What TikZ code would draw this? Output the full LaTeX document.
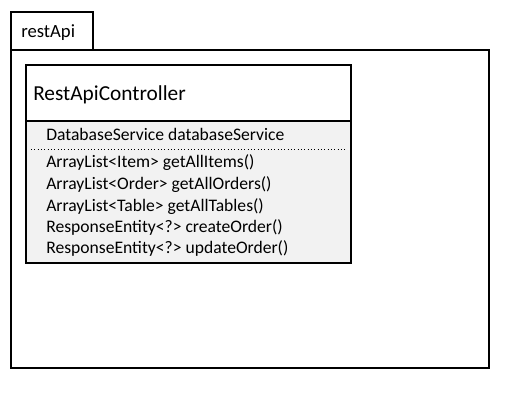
\documentclass[tikz,border=0pt]{standalone}
\usepackage{fontspec}
\setmainfont{Carlito}
\usepackage{tikz}
\usetikzlibrary{positioning}
\definecolor{boxgray}{HTML}{F2F2F2}
\tikzstyle{frame}=[draw=black, line width=0.9pt]
\tikzstyle{member}=[anchor=base west, inner sep=0pt, font=\fontsize{13.2}{16}\selectfont]

\begin{document}
\begin{tikzpicture}[x=0.75pt, y=-0.75pt]
    \useasboundingbox (0,0) rectangle (515,408);

    % パッケージの枠
    \draw[frame, fill=white] (11,12) rectangle (93,50);
    \draw[frame, fill=white] (11,50) rectangle (489,368);
    \node[anchor=base west, inner sep=0pt, font=\fontsize{14}{17}\selectfont] (pkg) at (21,37) {restApi};

    % クラスの枠
    \draw[frame, fill=boxgray] (26,65) rectangle (351,263);
    \draw[frame, fill=white] (26,65) rectangle (351,121);
    \node[anchor=base west, inner sep=0pt, font=\fontsize{16}{19}\selectfont] (cls) at (33,100) {RestApiController};

    % 属性
    \node[member] (attr) at (46,140) {DatabaseService databaseService};
    \draw[dotted, line width=0.5pt] (31,149) -- (346,149);

    % メソッド
    \node[member] (m1) at (46,167) {ArrayList<Item> getAllItems()};
    \node[member] (m2) at (46,189) {ArrayList<Order> getAllOrders()};
    \node[member] (m3) at (46,211) {ArrayList<Table> getAllTables()};
    \node[member] (m4) at (46,232) {ResponseEntity<?> createOrder()};
    \node[member] (m5) at (46,253) {ResponseEntity<?> updateOrder()};
\end{tikzpicture}
\end{document}
